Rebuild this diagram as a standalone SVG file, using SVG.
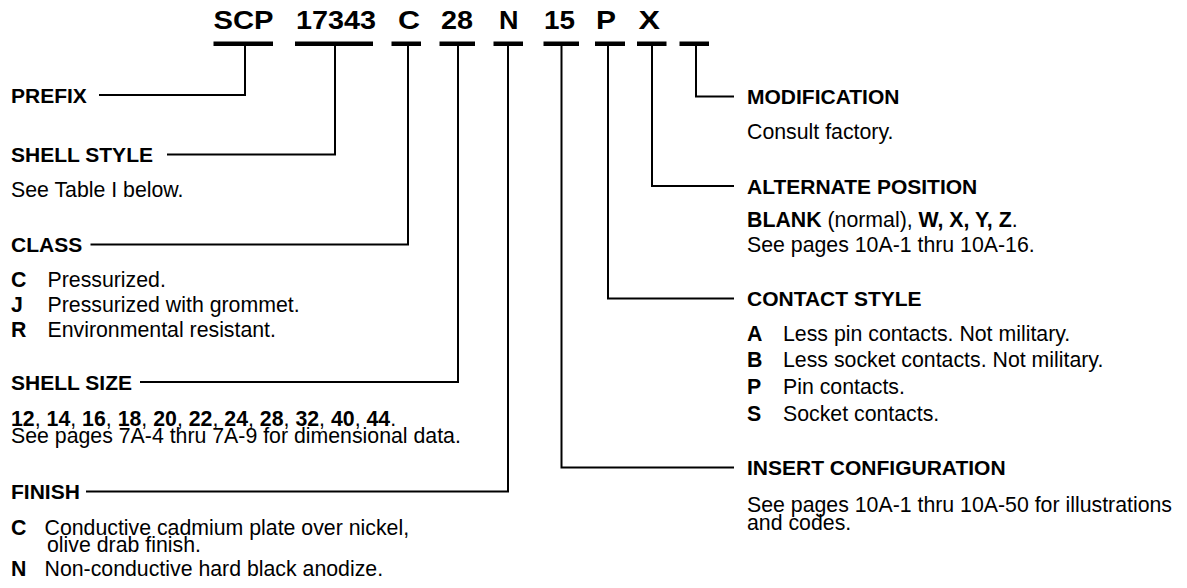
<svg xmlns="http://www.w3.org/2000/svg" width="1187" height="588" viewBox="0 0 1187 588">
<style>
.ttl{font-family:"Liberation Sans",Arial,sans-serif;font-weight:bold;font-size:25px;fill:#000}
.lbl{font-family:"Liberation Sans",Arial,sans-serif;font-weight:bold;font-size:21px;fill:#000}
.txt{font-family:"Liberation Sans",Arial,sans-serif;font-size:21.3px;fill:#000}
.b{font-weight:bold}
.bar{fill:#000}
.conn{fill:none;stroke:#000;stroke-width:2;stroke-linejoin:miter}
</style>
<rect width="1187" height="588" fill="#fff"/>
<g id="code">
<text class="ttl" x="213.5" y="28.5" textLength="60" lengthAdjust="spacingAndGlyphs">SCP</text>
<text class="ttl" x="296" y="28.5" textLength="80" lengthAdjust="spacingAndGlyphs">17343</text>
<text class="ttl" x="398" y="28.5" textLength="22" lengthAdjust="spacingAndGlyphs">C</text>
<text class="ttl" x="441" y="28.5" textLength="32" lengthAdjust="spacingAndGlyphs">28</text>
<text class="ttl" x="499" y="28.5" textLength="19.5" lengthAdjust="spacingAndGlyphs">N</text>
<text class="ttl" x="544" y="28.5" textLength="31" lengthAdjust="spacingAndGlyphs">15</text>
<text class="ttl" x="596" y="28.5" textLength="20" lengthAdjust="spacingAndGlyphs">P</text>
<text class="ttl" x="638.5" y="28.5" textLength="21.5" lengthAdjust="spacingAndGlyphs">X</text>
<rect class="bar" x="213.5" y="41.5" width="59.5" height="4.5"/>
<rect class="bar" x="295" y="41.5" width="78" height="4.5"/>
<rect class="bar" x="391.5" y="41.5" width="29.5" height="4.5"/>
<rect class="bar" x="439.5" y="41.5" width="35.5" height="4.5"/>
<rect class="bar" x="493.5" y="41.5" width="29.5" height="4.5"/>
<rect class="bar" x="543.5" y="41.5" width="35.5" height="4.5"/>
<rect class="bar" x="595" y="41.5" width="30" height="4.5"/>
<rect class="bar" x="637" y="41.5" width="29.5" height="4.5"/>
<rect class="bar" x="679.5" y="41.5" width="29.5" height="4.5"/>
</g>
<g id="connectors">
<path class="conn" d="M245 46V95H99"/>
<path class="conn" d="M335 46V154.5H167"/>
<path class="conn" d="M408 46V244.5H90.5"/>
<path class="conn" d="M458 46V382H140"/>
<path class="conn" d="M508 46V491.5H86"/>
<path class="conn" d="M561.5 46V467.5H734"/>
<path class="conn" d="M608 46V298.5H734"/>
<path class="conn" d="M652 46V186H734"/>
<path class="conn" d="M696 46V96.5H734"/>
</g>
<g id="prefix">
<text class="lbl" x="11" y="102.5">PREFIX</text>
</g>
<g id="shell-style">
<text class="lbl" x="11" y="162">SHELL STYLE</text>
<text class="txt" x="11" y="196.5">See Table I below.</text>
</g>
<g id="class">
<text class="lbl" x="11" y="252">CLASS</text>
<text class="txt"><tspan class="b" x="11" y="286.5">C</tspan><tspan x="47.5" y="286.5">Pressurized.</tspan><tspan class="b" x="11" y="311.5">J</tspan><tspan x="47.5" y="311.5">Pressurized with grommet.</tspan><tspan class="b" x="11" y="336.5">R</tspan><tspan x="47.5" y="336.5">Environmental resistant.</tspan></text>
</g>
<g id="shell-size">
<text class="lbl" x="11" y="389.5">SHELL SIZE</text>
<text class="txt"><tspan x="11" y="425.5"><tspan class="b">12</tspan>, <tspan class="b">14</tspan>, <tspan class="b">16</tspan>, <tspan class="b">18</tspan>, <tspan class="b">20</tspan>, <tspan class="b">22</tspan>, <tspan class="b">24</tspan>, <tspan class="b">28</tspan>, <tspan class="b">32</tspan>, <tspan class="b">40</tspan>, <tspan class="b">44</tspan>.</tspan><tspan x="11" y="443">See pages 7A-4 thru 7A-9 for dimensional data.</tspan></text>
</g>
<g id="finish">
<text class="lbl" x="11" y="499">FINISH</text>
<text class="txt"><tspan class="b" x="11" y="534.5">C</tspan><tspan x="44.5" y="534.5">Conductive cadmium plate over nickel,</tspan><tspan x="47" y="552">olive drab finish.</tspan><tspan class="b" x="11" y="575.5">N</tspan><tspan x="44.5" y="575.5">Non-conductive hard black anodize.</tspan></text>
</g>
<g id="modification">
<text class="lbl" x="747" y="104">MODIFICATION</text>
<text class="txt" x="747" y="139.3">Consult factory.</text>
</g>
<g id="alternate-position">
<text class="lbl" x="747" y="193.5">ALTERNATE POSITION</text>
<text class="txt"><tspan x="747" y="226.7"><tspan class="b">BLANK</tspan> (normal), <tspan class="b">W, X, Y, Z</tspan>.</tspan><tspan x="747" y="252">See pages 10A-1 thru 10A-16.</tspan></text>
</g>
<g id="contact-style">
<text class="lbl" x="747" y="306">CONTACT STYLE</text>
<text class="txt"><tspan class="b" x="747" y="340.5">A</tspan><tspan x="783" y="340.5">Less pin contacts. Not military.</tspan><tspan class="b" x="747" y="367">B</tspan><tspan x="783" y="367">Less socket contacts. Not military.</tspan><tspan class="b" x="747" y="394">P</tspan><tspan x="783" y="394">Pin contacts.</tspan><tspan class="b" x="747" y="420.5">S</tspan><tspan x="783" y="420.5">Socket contacts.</tspan></text>
</g>
<g id="insert-configuration">
<text class="lbl" x="747" y="475">INSERT CONFIGURATION</text>
<text class="txt"><tspan x="747" y="512">See pages 10A-1 thru 10A-50 for illustrations</tspan><tspan x="747" y="530">and codes.</tspan></text>
</g>
</svg>
